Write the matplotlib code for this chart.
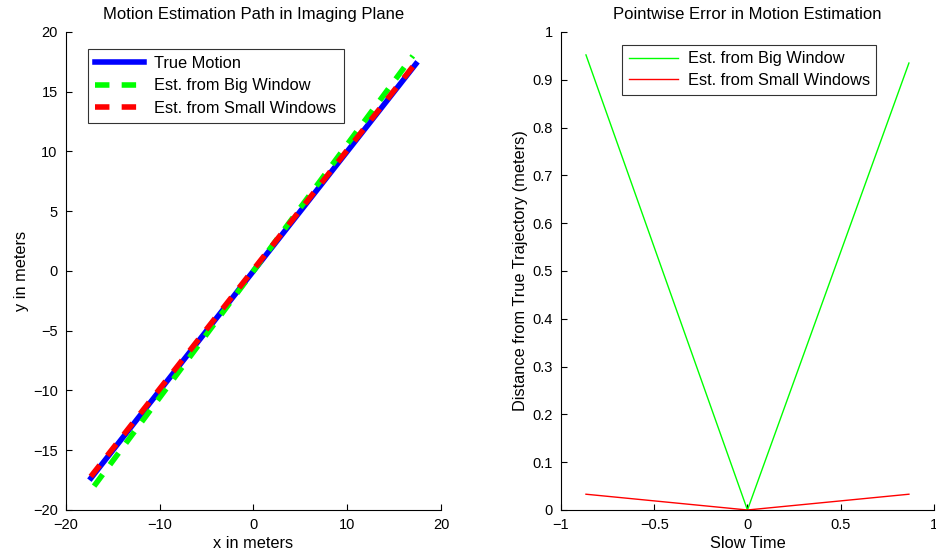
import matplotlib
matplotlib.use("Agg")
import matplotlib.pyplot as plt

plt.rcParams['font.family'] = ['Liberation Sans', 'DejaVu Sans']
plt.rcParams['font.size'] = 10.5
plt.rcParams['axes.unicode_minus'] = True

# ---- data ----
true_x = [-17.32, 17.32]
true_y = [-17.32, 17.32]
big_x = [-17.0, 17.0]
big_y = [-18.0, 18.0]
small_x = [-17.35, 17.35]
small_y = [-17.2, 17.45]

slow_t = [-0.866, 0.0, 0.866]
err_big = [0.952, 0.0, 0.935]
err_small = [0.033, 0.0, 0.033]

fig = plt.figure(figsize=(9.37, 5.52), dpi=100)
ax1 = fig.add_axes([0.0704, 0.0761, 0.4002, 0.866])
ax2 = fig.add_axes([0.5987, 0.0761, 0.398, 0.866])

def matlab_style(ax):
    ax.spines['top'].set_visible(False)
    ax.spines['right'].set_visible(False)
    ax.tick_params(direction='in', length=4, width=0.8, pad=6, labelsize=10.5)

# left panel
ax1.plot(true_x, true_y, color='#0000ff', lw=4, label='True Motion')
ax1.plot(big_x, big_y, color='#00ff00', lw=4, ls=(0, (2.6, 2.2)), label='Est. from Big Window')
ax1.plot(small_x, small_y, color='#ff0000', lw=4, ls=(0, (2.6, 2.2)), label='Est. from Small Windows')
ax1.set_xlim(-20, 20)
ax1.set_ylim(-20, 20)
ax1.set_xticks(range(-20, 21, 10))
ax1.set_yticks(range(-20, 21, 5))
ax1.set_title('Motion Estimation Path in Imaging Plane', fontsize=12, pad=9)
ax1.set_xlabel('x in meters', fontsize=11.8, labelpad=3)
ax1.set_ylabel('y in meters', fontsize=11.8, labelpad=3)
matlab_style(ax1)
leg1 = ax1.legend(loc='upper left', bbox_to_anchor=(0.058, 0.965), fancybox=False,
                  edgecolor='black', handlelength=3.0, borderaxespad=0, fontsize=11.8,
                  labelspacing=0.45, handletextpad=0.6, borderpad=0.45)
leg1.get_frame().set_linewidth(0.8)

# right panel
ax2.plot(slow_t, err_big, color='#00ff00', lw=1, label='Est. from Big Window')
ax2.plot(slow_t, err_small, color='#ff0000', lw=1, label='Est. from Small Windows')
ax2.set_xlim(-1, 1)
ax2.set_ylim(0, 1)
ax2.set_xticks([-1, -0.5, 0, 0.5, 1])
ax2.set_xticklabels(['\u22121', '\u22120.5', '0', '0.5', '1'])
ax2.set_yticks([i / 10 for i in range(11)])
ax2.set_yticklabels(['0', '0.1', '0.2', '0.3', '0.4', '0.5', '0.6', '0.7', '0.8', '0.9', '1'])
ax2.set_title('Pointwise Error in Motion Estimation', fontsize=12, pad=9)
ax2.set_xlabel('Slow Time', fontsize=11.8, labelpad=3)
ax2.set_ylabel('Distance from True Trajectory (meters)', fontsize=11.8, labelpad=3)
matlab_style(ax2)
leg2 = ax2.legend(loc='upper left', bbox_to_anchor=(0.1635, 0.973), fancybox=False,
                  edgecolor='black', handlelength=3.0, borderaxespad=0, fontsize=11.8,
                  labelspacing=0.4, handletextpad=0.6, borderpad=0.4)
leg2.get_frame().set_linewidth(0.8)

fig.savefig('out.png', dpi=100)
